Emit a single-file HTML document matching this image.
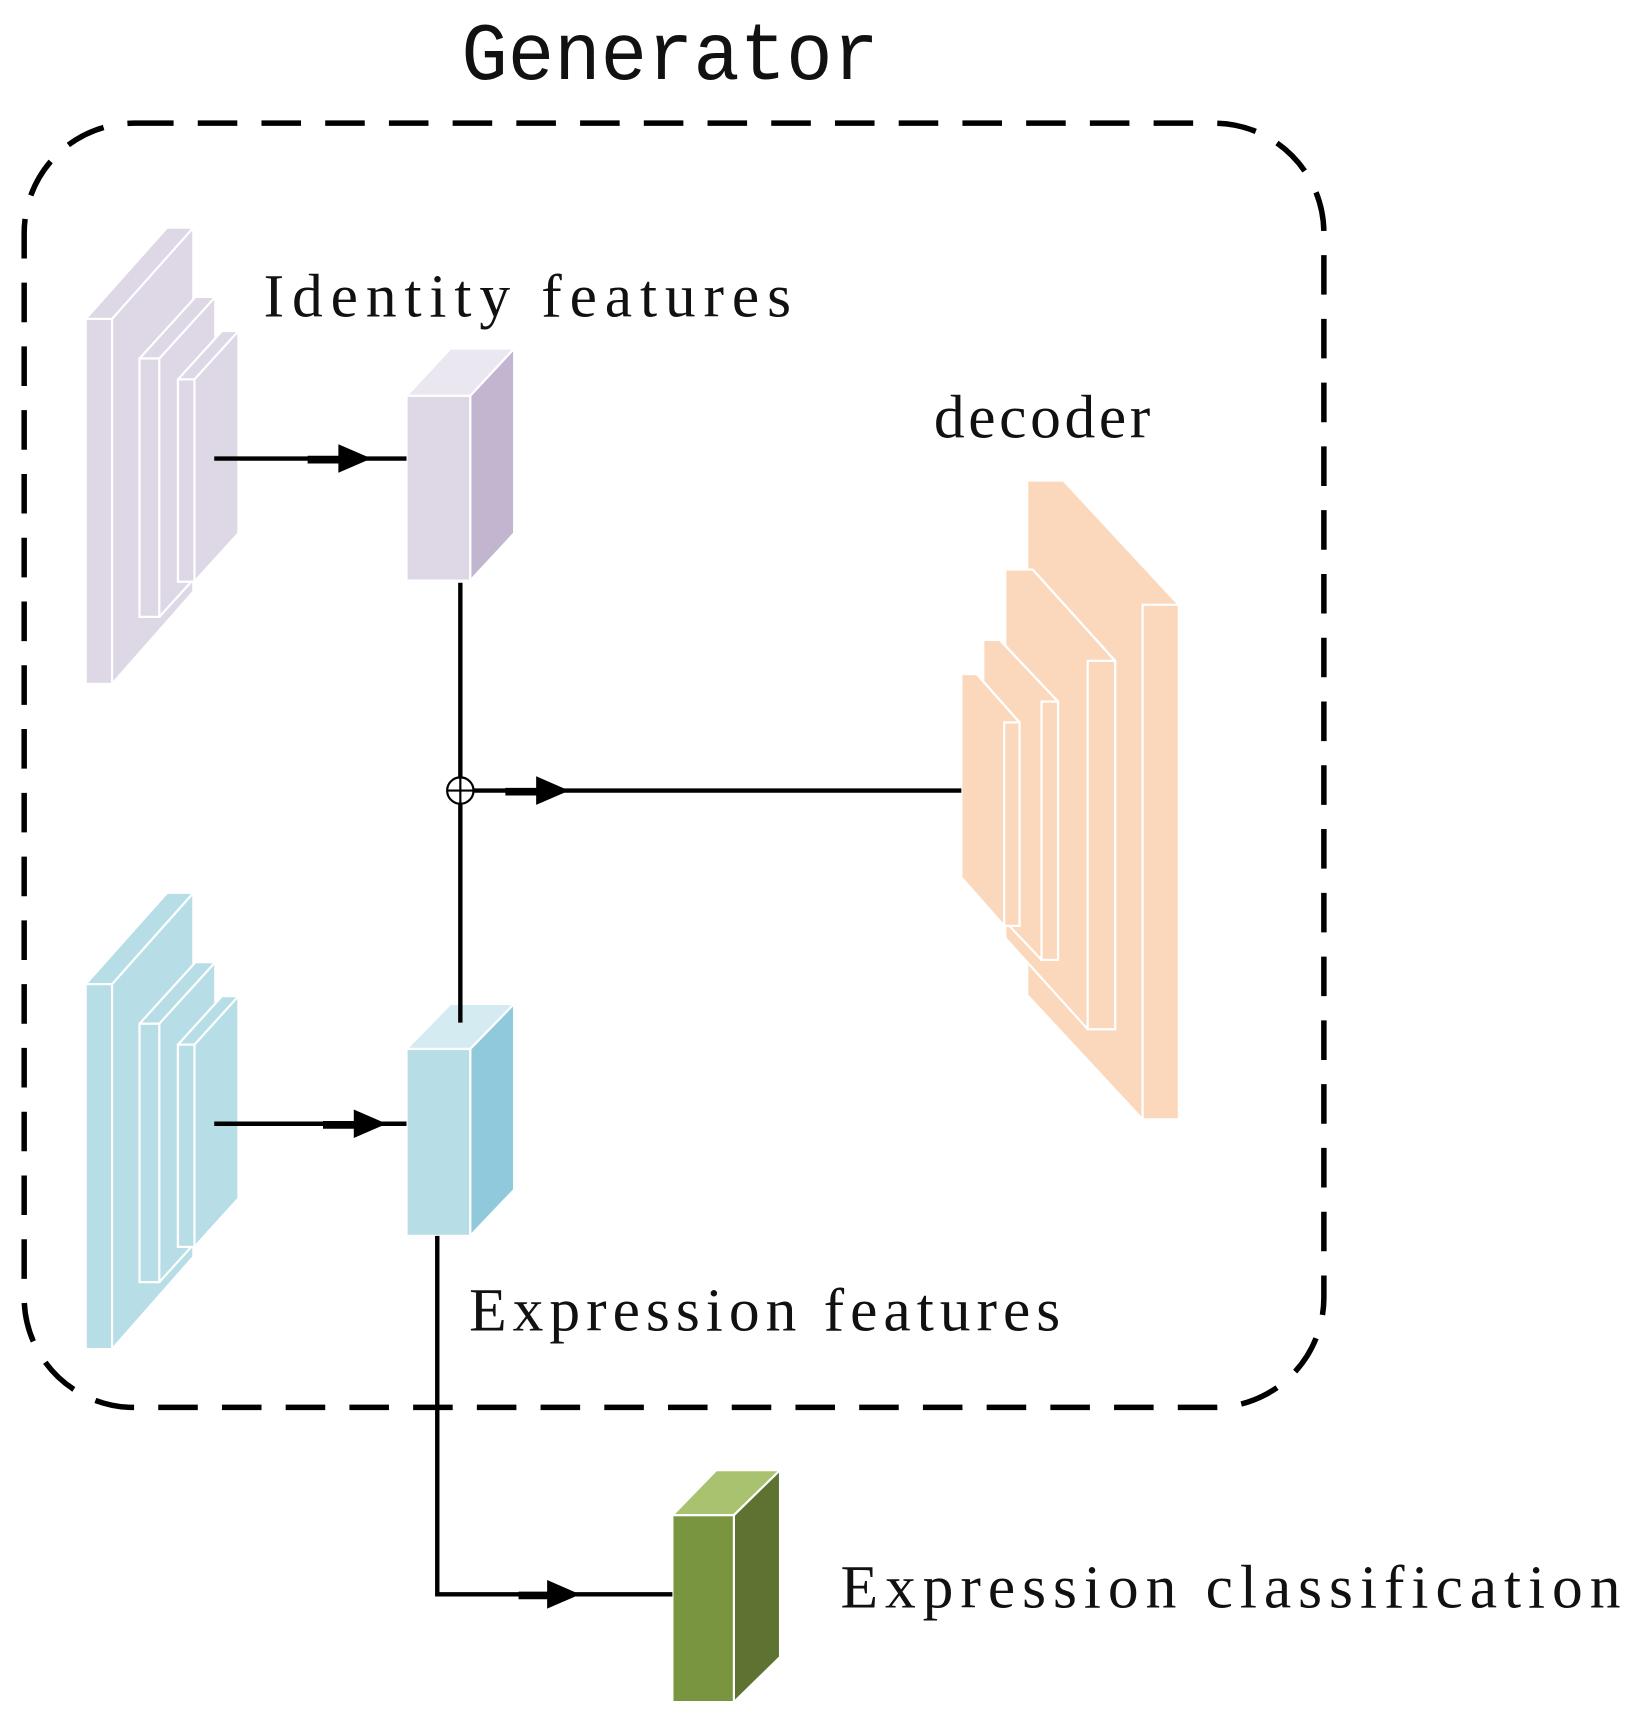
<!DOCTYPE html>
<html><head><meta charset="utf-8"><style>
html,body{margin:0;padding:0;background:#fff;}
svg{display:block;}
text{font-family:"Liberation Serif","DejaVu Serif",serif;fill:#111;}
</style></head><body>
<svg width="1637" height="1723" viewBox="0 0 1490 1567" preserveAspectRatio="none" xmlns="http://www.w3.org/2000/svg">
<text x="420" y="72" font-size="74" textLength="380" lengthAdjust="spacingAndGlyphs" style="font-family:'Liberation Mono','DejaVu Sans Mono',monospace">Generator</text>
<rect x="22" y="112" width="1183" height="1168" rx="100" ry="100" fill="none" stroke="#000" stroke-width="5" stroke-dasharray="36 22"/>

<!-- Identity stack -->
<g fill="#ddd7e6" stroke="#fff" stroke-width="2">
<polygon points="78,290 152,207 176,207 176,538 102,622 78,622"/>
<line x1="102" y1="290" x2="176" y2="207"/>
<rect x="78" y="290" width="24" height="332"/>
<polygon points="127,326 178,270 196,270 196,505 145,561 127,561"/>
<line x1="145" y1="326" x2="196" y2="270"/>
<rect x="127" y="326" width="18" height="235"/>
<polygon points="162,345 202,301 217,301 217,485 177,529 162,529"/>
<line x1="177" y1="345" x2="217" y2="301"/>
<rect x="162" y="345" width="15" height="184"/>
</g>
<polygon points="370,360 410,317 468,317 428,360" fill="#ebe7f0" stroke="#fff" stroke-width="2"/>
<polygon points="428,360 468,317 468,485 428,528" fill="#c2b5d0" stroke="#fff" stroke-width="2"/>
<rect x="370" y="360" width="58" height="168" fill="#ddd7e6" stroke="#fff" stroke-width="2"/>

<!-- Expression stack -->
<g fill="#b7dde7" stroke="#fff" stroke-width="2">
<polygon points="78,895 152,812 176,812 176,1143 102,1227 78,1227"/>
<line x1="102" y1="895" x2="176" y2="812"/>
<rect x="78" y="895" width="24" height="332"/>
<polygon points="127,931 178,875 196,875 196,1110 145,1166 127,1166"/>
<line x1="145" y1="931" x2="196" y2="875"/>
<rect x="127" y="931" width="18" height="235"/>
<polygon points="162,950 202,906 217,906 217,1090 177,1134 162,1134"/>
<line x1="177" y1="950" x2="217" y2="906"/>
<rect x="162" y="950" width="15" height="184"/>
</g>
<polygon points="370,954 410,913 468,913 428,954" fill="#d4ebf2" stroke="#fff" stroke-width="2"/>
<polygon points="428,954 468,913 468,1082 428,1124" fill="#90c9dc" stroke="#fff" stroke-width="2"/>
<rect x="370" y="954" width="58" height="170" fill="#b7dde7" stroke="#fff" stroke-width="2"/>

<!-- Decoder -->
<g fill="#fbd7bb" stroke="#fff" stroke-width="2">
<polygon points="935,437 968,437 1073,550 1073,1018 1040,1018 935,905"/>
<line x1="968" y1="437" x2="1073" y2="550"/>
<rect x="1040" y="550" width="33" height="468"/>
<polygon points="915,518 940,518 1015,601 1015,936 990,936 915,853"/>
<line x1="940" y1="518" x2="1015" y2="601"/>
<rect x="990" y="601" width="25" height="335"/>
<polygon points="895,582 910,582 963,638 963,873 948,873 895,817"/>
<line x1="910" y1="582" x2="963" y2="638"/>
<rect x="948" y="638" width="15" height="235"/>
<polygon points="875,613 889,613 928,657 928,842 914,842 875,798"/>
<line x1="889" y1="613" x2="928" y2="657"/>
<rect x="914" y="657" width="14" height="185"/>
</g>

<!-- Green cube -->
<polygon points="612,1378 652,1337 710,1337 668,1378" fill="#a9c270" stroke="#fff" stroke-width="2"/>
<polygon points="668,1378 710,1337 710,1507 668,1548" fill="#5e7232" stroke="#fff" stroke-width="2"/>
<rect x="612" y="1378" width="56" height="170" fill="#7a9540" stroke="#fff" stroke-width="2"/>

<!-- Connectors -->
<g stroke="#000" stroke-width="4" fill="none">
<line x1="195" y1="417" x2="370" y2="417"/>
<line x1="195" y1="1022" x2="370" y2="1022"/>
<line x1="419" y1="530" x2="419" y2="930"/>
<line x1="419" y1="719" x2="875" y2="719"/>
<polyline points="398,1124 398,1450 612,1450"/>
</g>
<g stroke="#000" stroke-width="7">
<line x1="280" y1="418" x2="312" y2="418"/>
<line x1="294" y1="1023" x2="326" y2="1023"/>
<line x1="460" y1="720" x2="492" y2="720"/>
<line x1="472" y1="1451" x2="502" y2="1451"/>
</g>
<circle cx="419" cy="719" r="12" fill="#fff" stroke="#000" stroke-width="2"/>
<line x1="407" y1="719" x2="431" y2="719" stroke="#000" stroke-width="2"/>
<line x1="419" y1="707" x2="419" y2="731" stroke="#000" stroke-width="2"/>
<g fill="#000">
<polygon points="308,404 338,417 308,430"/>
<polygon points="322,1009 352,1022 322,1035"/>
<polygon points="488,706 518,719 488,732"/>
<polygon points="498,1437 528,1450 498,1463"/>
</g>

<text x="240" y="288" font-size="56" textLength="480" lengthAdjust="spacing">Identity features</text>
<text x="850" y="398" font-size="56" textLength="197" lengthAdjust="spacing">decoder</text>
<text x="427" y="1210" font-size="56" textLength="538" lengthAdjust="spacing">Expression features</text>
<text x="765" y="1462" font-size="56" textLength="710" lengthAdjust="spacing">Expression classification</text>
</svg>
</body></html>
